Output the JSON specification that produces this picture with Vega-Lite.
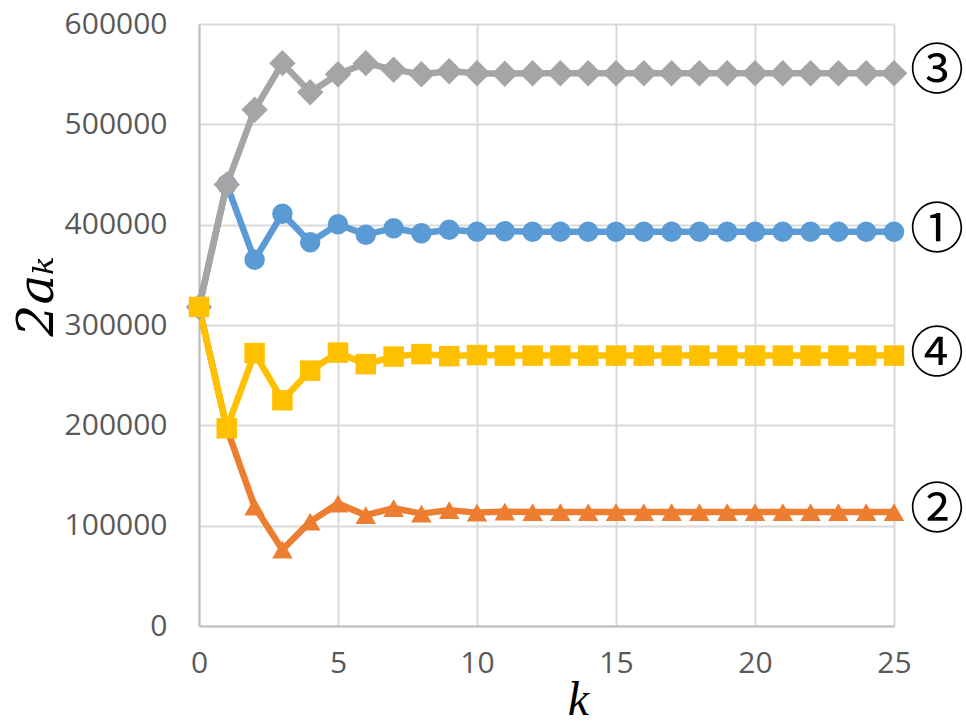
{
  "$schema": "https://vega.github.io/schema/vega-lite/v6.json",
  "width": 695,
  "height": 602,
  "autosize": {"type": "none"},
  "padding": {"left": 199, "top": 24, "right": 72, "bottom": 100},
  "background": "white",
  "config": {
    "view": {"stroke": null},
    "axis": {
      "labelFont": "Open Sans",
      "labelFontSize": 30,
      "labelColor": "#595959",
      "labelFlush": false,
      "gridColor": "#d9d9d9",
      "gridWidth": 2,
      "domainColor": "#bfbfbf",
      "domainWidth": 2,
      "ticks": false
    }
  },
  "data": {
    "values": [
      {"k": 0, "v": 318000, "s": "①"}, {"k": 1, "v": 440000, "s": "①"}, {"k": 2, "v": 365000, "s": "①"}, {"k": 3, "v": 411000, "s": "①"}, {"k": 4, "v": 382500, "s": "①"}, {"k": 5, "v": 400500, "s": "①"}, {"k": 6, "v": 390000, "s": "①"}, {"k": 7, "v": 396500, "s": "①"}, {"k": 8, "v": 391500, "s": "①"}, {"k": 9, "v": 395000, "s": "①"}, {"k": 10, "v": 393000, "s": "①"}, {"k": 11, "v": 393500, "s": "①"}, {"k": 12, "v": 393000, "s": "①"}, {"k": 13, "v": 393000, "s": "①"}, {"k": 14, "v": 393000, "s": "①"}, {"k": 15, "v": 393000, "s": "①"}, {"k": 16, "v": 393000, "s": "①"}, {"k": 17, "v": 393000, "s": "①"}, {"k": 18, "v": 393000, "s": "①"}, {"k": 19, "v": 393000, "s": "①"}, {"k": 20, "v": 393000, "s": "①"}, {"k": 21, "v": 393000, "s": "①"}, {"k": 22, "v": 393000, "s": "①"}, {"k": 23, "v": 393000, "s": "①"}, {"k": 24, "v": 393000, "s": "①"}, {"k": 25, "v": 393000, "s": "①"},
      {"k": 0, "v": 318000, "s": "②"}, {"k": 1, "v": 197000, "s": "②"}, {"k": 2, "v": 119000, "s": "②"}, {"k": 3, "v": 76000, "s": "②"}, {"k": 4, "v": 104000, "s": "②"}, {"k": 5, "v": 122000, "s": "②"}, {"k": 6, "v": 110500, "s": "②"}, {"k": 7, "v": 117500, "s": "②"}, {"k": 8, "v": 112000, "s": "②"}, {"k": 9, "v": 115500, "s": "②"}, {"k": 10, "v": 113000, "s": "②"}, {"k": 11, "v": 114000, "s": "②"}, {"k": 12, "v": 113500, "s": "②"}, {"k": 13, "v": 113500, "s": "②"}, {"k": 14, "v": 113500, "s": "②"}, {"k": 15, "v": 113500, "s": "②"}, {"k": 16, "v": 113500, "s": "②"}, {"k": 17, "v": 113500, "s": "②"}, {"k": 18, "v": 113500, "s": "②"}, {"k": 19, "v": 113500, "s": "②"}, {"k": 20, "v": 113500, "s": "②"}, {"k": 21, "v": 113500, "s": "②"}, {"k": 22, "v": 113500, "s": "②"}, {"k": 23, "v": 113500, "s": "②"}, {"k": 24, "v": 113500, "s": "②"}, {"k": 25, "v": 113500, "s": "②"},
      {"k": 0, "v": 318000, "s": "③"}, {"k": 1, "v": 440000, "s": "③"}, {"k": 2, "v": 514500, "s": "③"}, {"k": 3, "v": 561000, "s": "③"}, {"k": 4, "v": 532000, "s": "③"}, {"k": 5, "v": 550000, "s": "③"}, {"k": 6, "v": 561000, "s": "③"}, {"k": 7, "v": 554500, "s": "③"}, {"k": 8, "v": 550000, "s": "③"}, {"k": 9, "v": 553000, "s": "③"}, {"k": 10, "v": 551000, "s": "③"}, {"k": 11, "v": 550500, "s": "③"}, {"k": 12, "v": 551000, "s": "③"}, {"k": 13, "v": 551000, "s": "③"}, {"k": 14, "v": 551000, "s": "③"}, {"k": 15, "v": 551000, "s": "③"}, {"k": 16, "v": 551000, "s": "③"}, {"k": 17, "v": 551000, "s": "③"}, {"k": 18, "v": 551000, "s": "③"}, {"k": 19, "v": 551000, "s": "③"}, {"k": 20, "v": 551000, "s": "③"}, {"k": 21, "v": 551000, "s": "③"}, {"k": 22, "v": 551000, "s": "③"}, {"k": 23, "v": 551000, "s": "③"}, {"k": 24, "v": 551000, "s": "③"}, {"k": 25, "v": 551000, "s": "③"},
      {"k": 0, "v": 318000, "s": "④"}, {"k": 1, "v": 197000, "s": "④"}, {"k": 2, "v": 272000, "s": "④"}, {"k": 3, "v": 225000, "s": "④"}, {"k": 4, "v": 254500, "s": "④"}, {"k": 5, "v": 272500, "s": "④"}, {"k": 6, "v": 261000, "s": "④"}, {"k": 7, "v": 268500, "s": "④"}, {"k": 8, "v": 271000, "s": "④"}, {"k": 9, "v": 269000, "s": "④"}, {"k": 10, "v": 270000, "s": "④"}, {"k": 11, "v": 269500, "s": "④"}, {"k": 12, "v": 269500, "s": "④"}, {"k": 13, "v": 269500, "s": "④"}, {"k": 14, "v": 269500, "s": "④"}, {"k": 15, "v": 269500, "s": "④"}, {"k": 16, "v": 269500, "s": "④"}, {"k": 17, "v": 269500, "s": "④"}, {"k": 18, "v": 269500, "s": "④"}, {"k": 19, "v": 269500, "s": "④"}, {"k": 20, "v": 269500, "s": "④"}, {"k": 21, "v": 269500, "s": "④"}, {"k": 22, "v": 269500, "s": "④"}, {"k": 23, "v": 269500, "s": "④"}, {"k": 24, "v": 269500, "s": "④"}, {"k": 25, "v": 269500, "s": "④"}
    ]
  },
  "encoding": {
    "x": {
      "field": "k", "type": "quantitative",
      "scale": {"domain": [0, 25], "nice": false},
      "axis": {
        "values": [0, 5, 10, 15, 20, 25],
        "format": "d",
        "labelPadding": 22,
        "title": "k",
        "titleFont": "Liberation Serif",
        "titleFontStyle": "italic",
        "titleFontWeight": "normal",
        "titleFontSize": 48,
        "titleColor": "black",
        "titleX": 379,
        "titleY": 88,
        "titleBaseline": "alphabetic",
        "titleAlign": "center"
      }
    },
    "y": {
      "field": "v", "type": "quantitative",
      "scale": {"domain": [0, 600000], "nice": false},
      "axis": {
        "values": [0, 100000, 200000, 300000, 400000, 500000, 600000],
        "format": "d",
        "labelPadding": 32,
        "title": "2aₖ",
        "titleFont": "DejaVu Serif",
        "titleFontStyle": "italic",
        "titleFontWeight": "normal",
        "titleFontSize": 50,
        "titleColor": "black",
        "titleAngle": -90,
        "titleX": -162,
        "titleY": 272,
        "titleBaseline": "middle",
        "titleAlign": "center"
      }
    },
    "color": {
      "field": "s", "type": "nominal",
      "scale": {"domain": ["①", "②", "③", "④"], "range": ["#5B9BD5", "#ED7D31", "#A5A5A5", "#FFC000"]},
      "legend": null
    }
  },
  "layer": [
    {
      "mark": {"type": "line", "strokeWidth": 6.5, "strokeJoin": "round"}
    },
    {
      "transform": [{"filter": "datum.s == '①'"}],
      "mark": {"type": "point", "shape": "circle", "filled": true, "opacity": 1, "size": 420}
    },
    {
      "transform": [{"filter": "datum.s == '②'"}],
      "mark": {"type": "point", "shape": "triangle-up", "filled": true, "opacity": 1, "size": 420}
    },
    {
      "transform": [{"filter": "datum.s == '③'"}],
      "mark": {"type": "point", "shape": "diamond", "filled": true, "opacity": 1, "size": 700}
    },
    {
      "transform": [{"filter": "datum.s == '④'"}],
      "mark": {"type": "point", "shape": "square", "filled": true, "opacity": 1, "size": 420}
    },
    {
      "transform": [{"filter": "datum.k == 25"}],
      "mark": {"type": "text", "font": "Noto Sans CJK JP", "fontSize": 54, "align": "center", "baseline": "middle", "dx": 43, "color": "black"},
      "encoding": {
        "text": {"field": "s"},
        "color": {"value": "black"}
      }
    }
  ]
}
